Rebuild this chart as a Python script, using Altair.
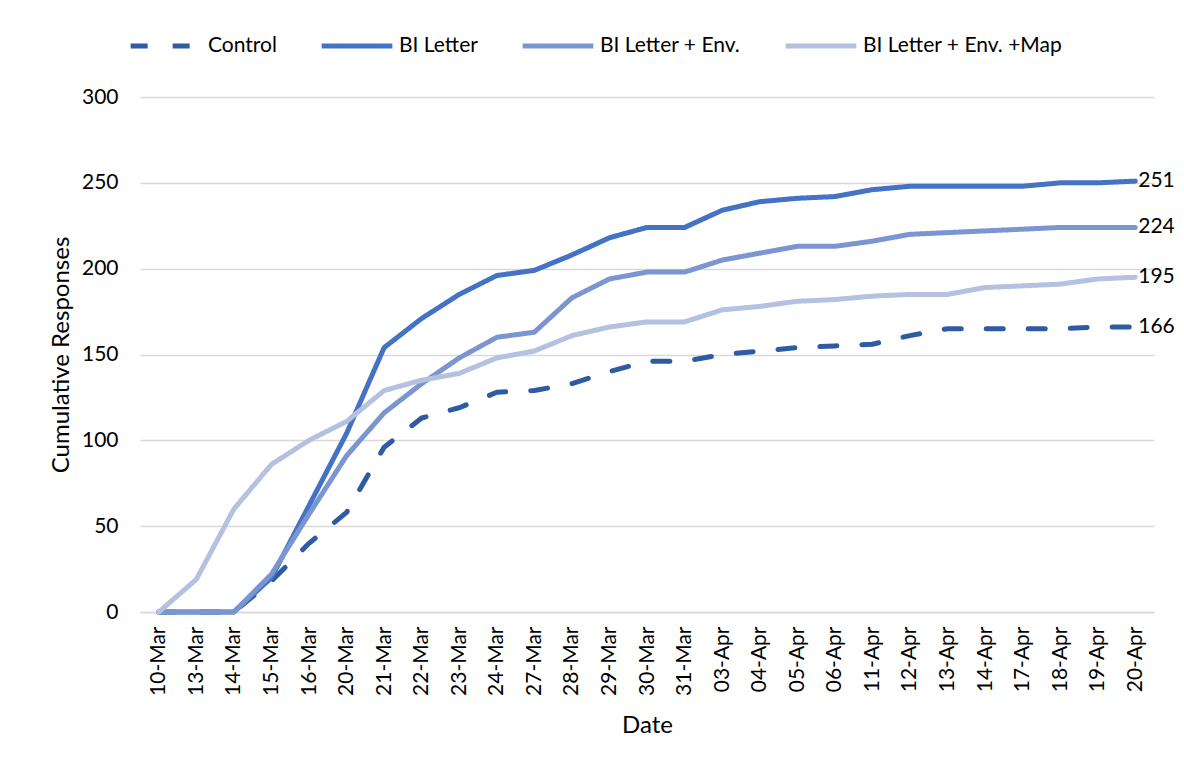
import altair as alt
import pandas as pd

dates = ["10-Mar", "13-Mar", "14-Mar", "15-Mar", "16-Mar", "20-Mar", "21-Mar", "22-Mar",
         "23-Mar", "24-Mar", "27-Mar", "28-Mar", "29-Mar", "30-Mar", "31-Mar", "03-Apr",
         "04-Apr", "05-Apr", "06-Apr", "11-Apr", "12-Apr", "13-Apr", "14-Apr", "17-Apr",
         "18-Apr", "19-Apr", "20-Apr"]

series_names = ["Control", "BI Letter", "BI Letter + Env.", "BI Letter + Env. +Map"]

control = [0, 0, 0, 18, 40, 58, 96, 113, 119, 128, 129, 133, 140, 146, 146, 150,
           152, 154, 155, 156, 161, 165, 165, 165, 165, 166, 166]
bi_letter = [0, 0, 0, 20, 62, 104, 154, 171, 185, 196, 199, 208, 218, 224, 224, 234,
             239, 241, 242, 246, 248, 248, 248, 248, 250, 250, 251]
bi_env = [0, 0, 0, 22, 57, 91, 116, 133, 148, 160, 163, 183, 194, 198, 198, 205,
          209, 213, 213, 216, 220, 221, 222, 223, 224, 224, 224]
bi_env_map = [0, 19, 60, 86, 100, 111, 129, 135, 139, 148, 152, 161, 166, 169, 169, 176,
              178, 181, 182, 184, 185, 185, 189, 190, 191, 194, 195]

colors = ["#2f5ba3", "#4472c4", "#7b95d1", "#b4c1e1"]
dashes = [[17, 25], [1, 0], [1, 0], [1, 0]]

rows = []
for name, vals in zip(series_names, [control, bi_letter, bi_env, bi_env_map]):
    for i, (d, v) in enumerate(zip(dates, vals)):
        rows.append({"series": name, "date": d, "value": v, "idx": i})
df = pd.DataFrame(rows)
last = df[df["date"] == dates[-1]]

FONT = "Lato"

x = alt.X("date:O", sort=dates, title="Date",
          scale=alt.Scale(type="point", padding=0.5),
          axis=alt.Axis(labelAngle=-90, labelFontSize=21, labelPadding=14,
                        titleFontSize=24, titlePadding=18, titleFontWeight="normal",
                        ticks=False, domain=True, domainColor="#d9d9d9", domainWidth=1.5,
                        labelColor="#000000", titleColor="#000000"))
y = alt.Y("value:Q", title="Cumulative Responses",
          scale=alt.Scale(domain=[0, 300], nice=False),
          axis=alt.Axis(values=[0, 50, 100, 150, 200, 250, 300], labelFontSize=21,
                        labelPadding=22, titleFontSize=24, titlePadding=8,
                        titleFontWeight="normal", ticks=False, domain=False,
                        gridColor="#d9d9d9", gridWidth=1.5,
                        labelColor="#000000", titleColor="#000000"))

color = alt.Color("series:N", scale=alt.Scale(domain=series_names, range=colors),
                  title=None,
                  legend=alt.Legend(orient="none", direction="horizontal",
                                    legendX=-12, legendY=-89,
                                    symbolType="stroke", symbolSize=5000,
                                    symbolStrokeWidth=5, labelFontSize=21,
                                    labelColor="#000000", labelOffset=4,
                                    columnPadding=34, labelLimit=400))
dash = alt.StrokeDash("series:N", scale=alt.Scale(domain=series_names, range=dashes),
                      title=None, legend=None)

lines = alt.Chart(df).mark_line(strokeWidth=5, strokeCap="round", strokeJoin="round").encode(
    x=x, y=y, color=color, strokeDash=dash, detail="series:N",
    order=alt.Order("idx:Q"))

labels = alt.Chart(last).mark_text(align="left", baseline="middle", dx=3,
                                   fontSize=21, font=FONT, color="#000000").encode(
    x=alt.X("date:O", sort=dates), y=alt.Y("value:Q"), text=alt.Text("value:Q"))

chart = alt.layer(lines, labels).properties(
    width=1014, height=515,
    padding={"left": 132, "top": 89, "right": 22, "bottom": 130},
    autosize=alt.AutoSizeParams(type="none"),
).configure(font=FONT).configure_view(stroke=None)

chart.save("out.html", embed_options={"renderer": "svg", "actions": False})
